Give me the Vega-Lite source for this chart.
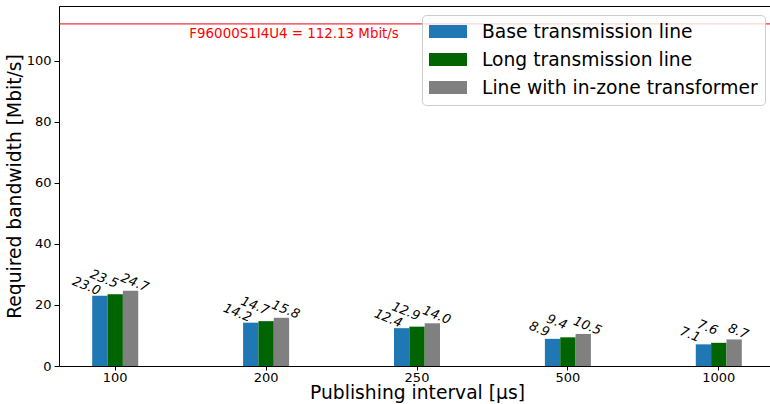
{
  "$schema": "https://vega.github.io/schema/vega-lite/v6.json",
  "autosize": "none",
  "width": 716,
  "height": 360,
  "padding": {"left": 59, "top": 6, "right": 0, "bottom": 38},
  "config": {
    "font": "DejaVu Sans",
    "view": {"stroke": "black", "strokeWidth": 1},
    "axis": {"domainColor": "black", "tickColor": "black", "labelColor": "black", "titleColor": "black", "grid": false, "labelFontSize": 13, "titleFontSize": 18.7, "titleFontWeight": "normal", "tickSize": 5}
  },
  "data": {
    "values": [
      {"interval": "100", "series": "Base transmission line", "bw": 23.0},
      {"interval": "100", "series": "Long transmission line", "bw": 23.5},
      {"interval": "100", "series": "Line with in-zone transformer", "bw": 24.7},
      {"interval": "200", "series": "Base transmission line", "bw": 14.2},
      {"interval": "200", "series": "Long transmission line", "bw": 14.7},
      {"interval": "200", "series": "Line with in-zone transformer", "bw": 15.8},
      {"interval": "250", "series": "Base transmission line", "bw": 12.4},
      {"interval": "250", "series": "Long transmission line", "bw": 12.9},
      {"interval": "250", "series": "Line with in-zone transformer", "bw": 14.0},
      {"interval": "500", "series": "Base transmission line", "bw": 8.9},
      {"interval": "500", "series": "Long transmission line", "bw": 9.4},
      {"interval": "500", "series": "Line with in-zone transformer", "bw": 10.5},
      {"interval": "1000", "series": "Base transmission line", "bw": 7.1},
      {"interval": "1000", "series": "Long transmission line", "bw": 7.6},
      {"interval": "1000", "series": "Line with in-zone transformer", "bw": 8.7}
    ]
  },
  "layer": [
    {
      "mark": {"type": "bar"},
      "encoding": {
        "x": {
          "field": "interval", "type": "nominal",
          "sort": ["100", "200", "250", "500", "1000"],
          "scale": {"paddingInner": 0.695, "paddingOuter": 0.22},
          "axis": {"title": "Publishing interval [μs]", "labelAngle": 0, "labelPadding": 1, "titlePadding": -1, "tickSize": 4}
        },
        "xOffset": {"field": "series", "type": "nominal", "sort": ["Base transmission line", "Long transmission line", "Line with in-zone transformer"], "scale": {"paddingInner": 0, "paddingOuter": 0}},
        "y": {
          "field": "bw", "type": "quantitative",
          "scale": {"domain": [0, 118], "nice": false, "zero": true},
          "axis": {"title": "Required bandwidth [Mbit/s]", "values": [0, 20, 40, 60, 80, 100], "labelPadding": 3, "titlePadding": 2}
        },
        "color": {
          "field": "series", "type": "nominal",
          "sort": ["Base transmission line", "Long transmission line", "Line with in-zone transformer"],
          "scale": {"domain": ["Base transmission line", "Long transmission line", "Line with in-zone transformer"], "range": ["#1f77b4", "#006400", "#808080"]},
          "legend": {
            "title": null, "orient": "none", "legendX": 363, "legendY": 9,
            "labelFontSize": 18.7, "labelColor": "black",
            "symbolType": "M-1,-0.68H3V0.68H-1Z", "symbolSize": 361, "symbolStrokeWidth": 0, "symbolOpacity": 1,
            "labelOffset": 34, "rowPadding": 8, "padding": 7,
            "strokeColor": "#cccccc", "cornerRadius": 4, "fillColor": "rgba(255,255,255,0.8)", "labelLimit": 400
          }
        }
      }
    },
    {
      "transform": [{"filter": "datum.series === 'Base transmission line'"}],
      "mark": {"type": "text", "angle": 22, "fontStyle": "italic", "fontSize": 13, "dx": -16, "dy": -4, "color": "black"},
      "encoding": {
        "x": {"field": "interval", "type": "nominal", "sort": ["100", "200", "250", "500", "1000"]},
        "xOffset": {"field": "series", "type": "nominal", "sort": ["Base transmission line", "Long transmission line", "Line with in-zone transformer"]},
        "y": {"field": "bw", "type": "quantitative"},
        "text": {"field": "bw", "type": "quantitative", "format": ".1f"}
      }
    },
    {
      "transform": [{"filter": "datum.series === 'Long transmission line'"}],
      "mark": {"type": "text", "angle": 22, "fontStyle": "italic", "fontSize": 13, "dx": -16, "dy": -10, "color": "black"},
      "encoding": {
        "x": {"field": "interval", "type": "nominal", "sort": ["100", "200", "250", "500", "1000"]},
        "xOffset": {"field": "series", "type": "nominal", "sort": ["Base transmission line", "Long transmission line", "Line with in-zone transformer"]},
        "y": {"field": "bw", "type": "quantitative"},
        "text": {"field": "bw", "type": "quantitative", "format": ".1f"}
      }
    },
    {
      "transform": [{"filter": "datum.series === 'Line with in-zone transformer'"}],
      "mark": {"type": "text", "angle": 22, "fontStyle": "italic", "fontSize": 13, "dx": 1, "dy": -9, "color": "black"},
      "encoding": {
        "x": {"field": "interval", "type": "nominal", "sort": ["100", "200", "250", "500", "1000"]},
        "xOffset": {"field": "series", "type": "nominal", "sort": ["Base transmission line", "Long transmission line", "Line with in-zone transformer"]},
        "y": {"field": "bw", "type": "quantitative"},
        "text": {"field": "bw", "type": "quantitative", "format": ".1f"}
      }
    },
    {
      "data": {"values": [{"threshold": 112.13, "label": "F96000S1I4U4 = 112.13 Mbit/s"}]},
      "mark": {"type": "rule", "color": "#e8000b", "strokeWidth": 1},
      "encoding": {"y": {"field": "threshold", "type": "quantitative"}}
    },
    {
      "data": {"values": [{"threshold": 112.13, "label": "F96000S1I4U4 = 112.13 Mbit/s"}]},
      "mark": {"type": "text", "color": "#ff0000", "fontSize": 13.4, "baseline": "top", "align": "center", "dy": 3, "dx": 28},
      "encoding": {
        "x": {"datum": "200"},
        "y": {"field": "threshold", "type": "quantitative"},
        "text": {"field": "label"}
      }
    }
  ]
}
